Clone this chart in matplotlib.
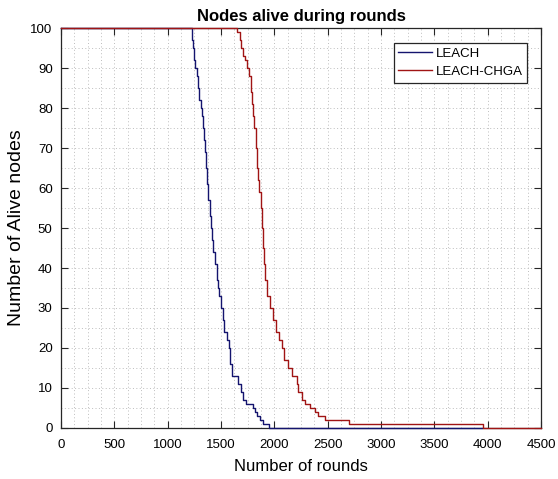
import matplotlib
matplotlib.use("Agg")
import matplotlib.pyplot as plt
from matplotlib.ticker import MultipleLocator

# round at which the count of alive nodes changes, and the count from that round on
rounds_leach = [0, 1225, 1230, 1236, 1247, 1258, 1272, 1283, 1294, 1312,
                1325, 1334, 1340, 1347, 1356, 1372, 1381, 1397, 1406, 1415,
                1428, 1444, 1459, 1469, 1481, 1497, 1516, 1528, 1553, 1575,
                1584, 1600, 1662, 1684, 1709, 1734, 1803, 1819, 1840, 1866,
                1891, 1950, 3950]
alive_leach = [100, 99, 97, 95, 92, 90, 88, 85, 82, 80,
               78, 75, 72, 69, 65, 61, 57, 53, 50, 47,
               44, 41, 37, 35, 33, 30, 27, 24, 22, 20,
               16, 13, 11, 9, 7, 6, 5, 4, 3, 2,
               1, 0, 0]

rounds_chga = [0, 1647, 1678, 1687, 1709, 1725, 1747, 1765, 1778, 1794,
               1803, 1812, 1825, 1834, 1850, 1859, 1872, 1881, 1890, 1903,
               1912, 1928, 1934, 1959, 1984, 2016, 2047, 2069, 2091, 2131,
               2162, 2209, 2225, 2256, 2287, 2334, 2381, 2412, 2475, 2703,
               3959, 4500]
alive_chga = [100, 99, 97, 95, 93, 92, 90, 88, 84, 81,
              78, 75, 70, 65, 62, 59, 55, 50, 45, 41,
              37, 35, 33, 30, 27, 24, 22, 20, 17, 15,
              13, 11, 9, 7, 6, 5, 4, 3, 2, 1,
              0, 0]

x_ticks = list(range(0, 4501, 500))
y_ticks = list(range(0, 101, 10))

plt.rcParams['font.family'] = ['Liberation Sans', 'DejaVu Sans']

fig = plt.figure(figsize=(5.58, 4.79), dpi=100)
ax = fig.add_axes([0.1093, 0.1065, 0.8602, 0.835])

# clip_on off + high zorder so the lines lying on the axes edges (100 and 0)
# are drawn over the box, like in matlab
ax.plot(rounds_leach, alive_leach, drawstyle='steps-post', color='#14146e',
        lw=1.0, label='LEACH', clip_on=False, zorder=6)
ax.plot(rounds_chga, alive_chga, drawstyle='steps-post', color='#a01414',
        lw=1.0, label='LEACH-CHGA', clip_on=False, zorder=6)

ax.set_xlim(0, 4500)
ax.set_ylim(0, 100)
ax.set_xticks(x_ticks)
ax.set_yticks(y_ticks)
ax.xaxis.set_minor_locator(MultipleLocator(125))
ax.yaxis.set_minor_locator(MultipleLocator(5))

# matlab style: grid + grid minor, ticks inside on all four sides
ax.grid(True, which='both', linestyle=(0, (1, 2.5)), color='#bdbdbd', lw=0.7)
ax.tick_params(which='major', direction='in', length=5, width=0.8,
               top=True, right=True, labelsize=9.5, colors='#262626',
               labelcolor='black')
ax.tick_params(axis='x', which='major', pad=8)
ax.tick_params(axis='y', which='major', pad=6)
ax.tick_params(which='minor', length=0)
for s in ax.spines.values():
    s.set_color('#262626')
    s.set_linewidth(0.9)
    s.set_zorder(4)

ax.set_title('Nodes alive during rounds', fontsize=12, fontweight='bold', pad=5)
ax.set_xlabel('Number of rounds', fontsize=12, labelpad=6)
ax.set_ylabel('Number of Alive nodes', fontsize=14, labelpad=4)

leg = ax.legend(loc='upper right', bbox_to_anchor=(0.971, 0.9625), fontsize=9.5,
                fancybox=False, framealpha=1, edgecolor='#262626',
                handlelength=2.55, handletextpad=0.25, borderpad=0.35,
                labelspacing=0.44, borderaxespad=0)
leg.get_frame().set_linewidth(0.9)
leg.set_zorder(7)

plt.savefig('out.png', dpi=100)
